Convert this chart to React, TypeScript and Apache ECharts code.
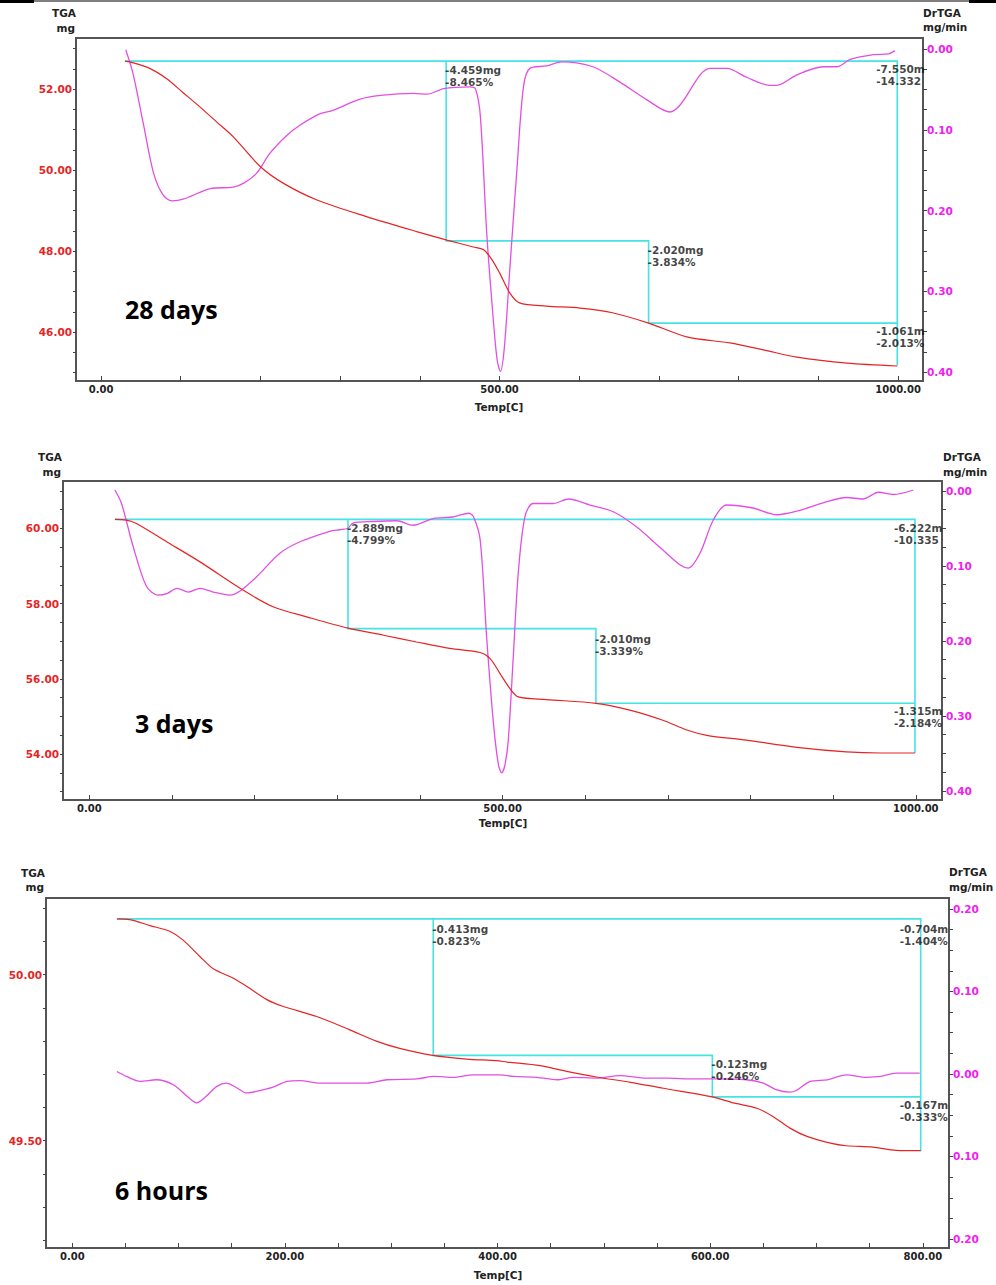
import React, { useEffect, useRef } from "react";
import * as echarts from "echarts";

// ---------- Panel 1: 28 days ----------
const p1Tga: number[][] = [
  [30, 52.69], [36, 52.67], [61, 52.51], [82, 52.26], [103, 51.91], [124, 51.56], [145, 51.19], [166, 50.82],
  [200, 50.08], [229, 49.67], [271, 49.26], [333, 48.85], [396, 48.48], [434, 48.27], [467, 48.1], [480, 48.03],
  [490, 47.8], [500, 47.46], [513, 46.96], [525, 46.72], [559, 46.64], [601, 46.59], [643, 46.47], [687, 46.22],
  [735, 45.88], [789, 45.73], [831, 45.56], [873, 45.38], [936, 45.23], [999, 45.16],
];
const p1Dtg: number[][] = [
  [31, -0.001], [40, -0.03], [53, -0.092], [66, -0.154], [78, -0.181], [89, -0.188], [103, -0.186], [137, -0.173],
  [166, -0.171], [179, -0.166], [195, -0.154], [212, -0.129], [233, -0.107], [250, -0.094], [275, -0.08],
  [291, -0.076], [325, -0.062], [354, -0.057], [392, -0.055], [409, -0.056], [430, -0.049], [463, -0.047],
  [470, -0.05], [476, -0.084], [484, -0.229], [492, -0.333], [497, -0.385], [501, -0.399], [506, -0.37],
  [513, -0.271], [522, -0.146], [530, -0.047], [538, -0.024], [559, -0.021], [578, -0.016], [617, -0.022],
  [651, -0.041], [685, -0.063], [714, -0.078], [726, -0.07], [764, -0.024], [785, -0.024], [810, -0.035],
  [839, -0.045], [848, -0.045], [873, -0.032], [906, -0.022], [923, -0.022], [940, -0.013], [969, -0.007],
  [988, -0.006], [996, -0.002],
];
const p1StepT = [30, 433, 687, 999];
const p1StepM = [52.69, 48.25, 46.22, 45.17];
const p1Notes = [["-4.459mg", "-8.465%"], ["-2.020mg", "-3.834%"], ["-7.550m", "-14.332"], ["-1.061m", "-2.013%"]];
const p1XTicks = [0, 100, 200, 300, 400, 500, 600, 700, 800, 900, 1000];
const p1XLabels = [0, 500, 1000];
const p1YLabels = [46, 48, 50, 52];
const p1YTicks = [45, 45.5, 46, 46.5, 47, 47.5, 48, 48.5, 49, 49.5, 50, 50.5, 51, 51.5, 52, 52.5, 53];
const p1DLabels = [0, -0.1, -0.2, -0.3, -0.4];

// ---------- Panel 2: 3 days ----------
const p2Tga: number[][] = [
  [31, 60.24], [45, 60.22], [57, 60.13], [94, 59.64], [134, 59.11], [186, 58.36], [223, 57.91], [263, 57.65],
  [313, 57.35], [356, 57.16], [396, 56.98], [436, 56.81], [473, 56.7], [485, 56.54], [497, 56.14], [509, 55.74],
  [519, 55.52], [553, 55.45], [613, 55.35], [654, 55.17], [694, 54.9], [723, 54.64], [747, 54.5], [795, 54.37],
  [856, 54.18], [916, 54.06], [957, 54.03], [999, 54.03],
];
const p2Dtg: number[][] = [
  [31, 0.001], [39, -0.017], [53, -0.074], [69, -0.127], [83, -0.139], [94, -0.137], [106, -0.13], [120, -0.135],
  [134, -0.13], [150, -0.135], [170, -0.139], [182, -0.134], [203, -0.114], [231, -0.083], [255, -0.068],
  [291, -0.054], [303, -0.052], [313, -0.05], [319, -0.043], [344, -0.041], [372, -0.04], [392, -0.046],
  [416, -0.037], [440, -0.035], [459, -0.03], [465, -0.035], [473, -0.066], [481, -0.199], [489, -0.31],
  [495, -0.365], [499, -0.376], [503, -0.365], [507, -0.332], [513, -0.221], [519, -0.11], [527, -0.035],
  [537, -0.017], [561, -0.017], [580, -0.011], [606, -0.019], [634, -0.028], [662, -0.048], [690, -0.075],
  [715, -0.099], [725, -0.103], [739, -0.083], [755, -0.039], [771, -0.019], [803, -0.023], [832, -0.032],
  [860, -0.026], [888, -0.016], [916, -0.009], [936, -0.011], [955, -0.002], [973, -0.005], [997, 0.001],
];
const p2StepT = [31, 313, 613, 999];
const p2StepM = [60.24, 57.335, 55.35, 54.03];
const p2Notes = [["-2.889mg", "-4.799%"], ["-2.010mg", "-3.339%"], ["-6.222m", "-10.335"], ["-1.315m", "-2.184%"]];
const p2XTicks = [0, 100, 200, 300, 400, 500, 600, 700, 800, 900, 1000];
const p2XLabels = [0, 500, 1000];
const p2YLabels = [54, 56, 58, 60];
const p2YTicks = [53, 53.5, 54, 54.5, 55, 55.5, 56, 56.5, 57, 57.5, 58, 58.5, 59, 59.5, 60, 60.5, 61];
const p2DLabels = [0, -0.1, -0.2, -0.3, -0.4];

// ---------- Panel 3: 6 hours ----------
const p3Tga: number[][] = [
  [42, 50.168], [54, 50.166], [73, 50.148], [92, 50.13], [104, 50.105], [120, 50.055], [133, 50.017],
  [151, 49.99], [164, 49.965], [183, 49.925], [198, 49.905], [230, 49.874], [261, 49.834], [286, 49.8],
  [308, 49.778], [339, 49.757], [371, 49.746], [399, 49.741], [409, 49.737], [440, 49.726], [465, 49.709],
  [493, 49.692], [525, 49.676], [556, 49.658], [602, 49.632], [622, 49.614], [644, 49.598], [659, 49.573],
  [675, 49.538], [691, 49.513], [713, 49.493], [728, 49.485], [753, 49.481], [775, 49.471], [798, 49.47],
];
const p3Dtg: number[][] = [
  [42, 0.003], [51, -0.003], [64, -0.009], [79, -0.007], [95, -0.013], [108, -0.027], [117, -0.035],
  [126, -0.027], [136, -0.015], [145, -0.011], [155, -0.017], [164, -0.023], [180, -0.019], [189, -0.016],
  [202, -0.009], [214, -0.008], [233, -0.011], [261, -0.011], [277, -0.011], [296, -0.007], [324, -0.006],
  [340, -0.003], [358, -0.004], [377, -0.001], [402, -0.001], [415, -0.003], [437, -0.004], [456, -0.007],
  [471, -0.004], [493, -0.005], [515, -0.002], [540, -0.005], [559, -0.005], [584, -0.006], [602, -0.006],
  [634, -0.007], [650, -0.011], [662, -0.019], [675, -0.022], [681, -0.02], [694, -0.009], [710, -0.007],
  [728, -0.001], [747, -0.004], [760, -0.003], [775, 0.001], [797, 0.001],
];
const p3StepT = [42, 339.5, 602, 798];
const p3StepM = [50.168, 49.757, 49.632, 49.468];
const p3Notes = [["-0.413mg", "-0.823%"], ["-0.123mg", "-0.246%"], ["-0.704m", "-1.404%"], ["-0.167m", "-0.333%"]];
const p3XTicks = [0, 50, 100, 150, 200, 250, 300, 350, 400, 450, 500, 550, 600, 650, 700, 750, 800];
const p3XLabels = [0, 200, 400, 600, 800];
const p3YLabels = [49.5, 50];
const p3YTicks = [49.2, 49.3, 49.4, 49.5, 49.6, 49.7, 49.8, 49.9, 50, 50.1, 50.2];
const p3DLabels = [0.2, 0.1, 0, -0.1, -0.2];

const dTicks1 = [0, -0.025, -0.05, -0.075, -0.1, -0.125, -0.15, -0.175, -0.2, -0.225, -0.25, -0.275, -0.3, -0.325, -0.35, -0.375, -0.4];
const dTicks3 = [0.2, 0.175, 0.15, 0.125, 0.1, 0.075, 0.05, 0.025, 0, -0.025, -0.05, -0.075, -0.1, -0.125, -0.15, -0.175, -0.2];

const RED = "#e52525";
const MAG = "#e34fe3";
const MAG_TXT = "#f020f0";
const CYAN = "#46e3e3";
const FRAME = "#555";
const FONT = "DejaVu Sans";

type Panel = {
  grid: any; xMin: number; xMax: number; xTicks: number[]; xLabels: number[];
  yMin: number; yMax: number; yLabels: number[]; yTicks: number[];
  dMin: number; dMax: number; dLabels: number[]; dTicks: number[];
  tga: number[][]; dtg: number[][]; stepT: number[]; stepM: number[]; notes: string[][];
  noteDy: number[];
};

const panels: Panel[] = [
  {
    grid: { left: 76, top: 38, width: 847, height: 343 }, xMin: -31.4, xMax: 1031.3, xTicks: p1XTicks, xLabels: p1XLabels,
    yMin: 44.79, yMax: 53.26, yLabels: p1YLabels, yTicks: p1YTicks,
    dMin: -0.411, dMax: 0.0136, dLabels: p1DLabels, dTicks: dTicks1,
    tga: p1Tga, dtg: p1Dtg, stepT: p1StepT, stepM: p1StepM, notes: p1Notes, noteDy: [3, 3, 2, 2],
  },
  {
    grid: { left: 63, top: 481, width: 879, height: 319 }, xMin: -31.8, xMax: 1031.7, xTicks: p2XTicks, xLabels: p2XLabels,
    yMin: 52.78, yMax: 61.26, yLabels: p2YLabels, yTicks: p2YTicks,
    dMin: -0.4122, dMax: 0.013, dLabels: p2DLabels, dTicks: dTicks1,
    tga: p2Tga, dtg: p2Dtg, stepT: p2StepT, stepM: p2StepM, notes: p2Notes, noteDy: [3, 4, 3, 2],
  },
  {
    grid: { left: 46, top: 898, width: 903, height: 350 }, xMin: -24.7, xMax: 824.6, xTicks: p3XTicks, xLabels: p3XLabels,
    yMin: 49.177, yMax: 50.231, yLabels: p3YLabels, yTicks: p3YTicks,
    dMin: -0.2109, dMax: 0.2133, dLabels: p3DLabels, dTicks: dTicks3,
    tga: p3Tga, dtg: p3Dtg, stepT: p3StepT, stepM: p3StepM, notes: p3Notes, noteDy: [4, 3, 4, 2],
  },
];

const titles = [
  { text: "28 days", x: 125, y: 309 },
  { text: "3 days", x: 135, y: 723 },
  { text: "6 hours", x: 115, y: 1190 },
];
const axisNames = [
  { tga: [76, 13], mg: [75, 28], dr: [923, 13], mgmin: [923, 27], temp: [499, 407] },
  { tga: [62, 457], mg: [61, 472], dr: [943, 457], mgmin: [943, 472], temp: [503, 823] },
  { tga: [45, 873], mg: [44, 887], dr: [949, 872], mgmin: [949, 887], temp: [498, 1275] },
];

function buildOption() {
  const grid: any[] = [];
  const xAxis: any[] = [];
  const yAxis: any[] = [];
  const series: any[] = [];
  const graphic: any[] = [];

  panels.forEach((p, i) => {
    grid.push({ ...p.grid, show: true, borderColor: FRAME, borderWidth: 2, backgroundColor: "#fff", containLabel: false });
    xAxis.push({
      type: "value", gridIndex: i, min: p.xMin, max: p.xMax, splitLine: { show: false },
      axisLine: { show: true, onZero: false, lineStyle: { color: FRAME, width: 2 } },
      axisTick: { show: true, inside: true, length: 5, customValues: p.xTicks, lineStyle: { color: "#444" } },
      axisLabel: { customValues: p.xLabels, margin: 3, color: "#222", fontFamily: FONT, fontWeight: "bold", fontSize: 10, formatter: (v: number) => v.toFixed(2) },
    });
    yAxis.push({
      type: "value", gridIndex: i, position: "left", min: p.yMin, max: p.yMax, splitLine: { show: false },
      axisLine: { show: true, onZero: false, lineStyle: { color: FRAME, width: 2 } },
      axisTick: { show: true, length: 3, customValues: p.yTicks, lineStyle: { color: "#444" } },
      axisLabel: { customValues: p.yLabels, margin: 4, color: RED, fontFamily: FONT, fontWeight: "bold", fontSize: 10.5, formatter: (v: number) => v.toFixed(2) },
    });
    yAxis.push({
      type: "value", gridIndex: i, position: "right", min: p.dMin, max: p.dMax, splitLine: { show: false },
      axisLine: { show: true, onZero: false, lineStyle: { color: FRAME, width: 2 } },
      axisTick: { show: true, length: 4, customValues: p.dTicks, lineStyle: { color: "#444" } },
      axisLabel: { customValues: p.dLabels, margin: 4, color: MAG_TXT, fontFamily: FONT, fontWeight: "bold", fontSize: 10.5, formatter: (v: number) => Math.abs(v).toFixed(2) },
    });

    const T = p.stepT, M = p.stepM;
    series.push({
      type: "lines", coordinateSystem: "cartesian2d", xAxisIndex: i, yAxisIndex: 2 * i, polyline: true, z: 2,
      lineStyle: { color: CYAN, width: 1.6, opacity: 1 },
      data: [
        { coords: [[T[0], M[0]], [T[3], M[0]], [T[3], M[3]]] },
        { coords: [[T[1], M[0]], [T[1], M[1]], [T[2], M[1]], [T[2], M[2]], [T[3], M[2]]] },
      ],
    });
    series.push({
      type: "line", xAxisIndex: i, yAxisIndex: 2 * i + 1, data: p.dtg, showSymbol: false, smooth: 0.3, z: 3,
      lineStyle: { color: MAG, width: 1.3 },
    });
    series.push({
      type: "line", xAxisIndex: i, yAxisIndex: 2 * i, data: p.tga, showSymbol: false, smooth: 0.3, z: 4,
      lineStyle: { color: RED, width: 1.2 },
    });
    const notePts = [[T[1], M[0]], [T[2], M[1]], [T[3], M[0]], [T[3], M[2]]];
    const dx = [-1, -1, -21, -21];
    series.push({
      type: "scatter", xAxisIndex: i, yAxisIndex: 2 * i, symbolSize: 0.1, z: 5, silent: true,
      itemStyle: { color: "rgba(0,0,0,0)" },
      data: notePts.map((pt, k) => ({
        value: pt,
        label: {
          show: true, position: [dx[k], p.noteDy[k]], align: "left", verticalAlign: "top",
          formatter: p.notes[k].join("\n"), color: "#111", fontFamily: FONT, fontWeight: "bold",
          fontSize: 10.5, lineHeight: 12,
        },
      })),
    });

    const n = axisNames[i];
    const txt = (t: string, pos: number[], align: string) => ({
      type: "text", x: pos[0], y: pos[1], z: 10,
      style: { text: t, fill: "#222", font: `bold 10.5px '${FONT}'`, textAlign: align, textVerticalAlign: "middle" },
    });
    graphic.push(txt("TGA", n.tga, "right"), txt("mg", n.mg, "right"), txt("DrTGA", n.dr, "left"),
      txt("mg/min", n.mgmin, "left"), txt("Temp[C]", n.temp, "center"));
    graphic.push({
      type: "text", x: titles[i].x, y: titles[i].y, z: 10,
      style: { text: titles[i].text, fill: "#000", font: "bold 25px 'Open Sans'", textAlign: "left", textVerticalAlign: "middle" },
    });
  });

  graphic.push(
    { type: "rect", shape: { x: 0, y: 0, width: 34, height: 3 }, style: { fill: "#000" } },
    { type: "line", shape: { x1: 34, y1: 1, x2: 969, y2: 1 }, style: { stroke: "#000", lineWidth: 1.2 } },
    { type: "rect", shape: { x: 969, y: 0, width: 27, height: 3 }, style: { fill: "#000" } },
  );

  return { animation: false, backgroundColor: "#fff", grid, xAxis, yAxis, series, graphic };
}

export default function App() {
  const ref = useRef<HTMLDivElement>(null);
  useEffect(() => {
    document.body.style.margin = "0";
    const chart = echarts.init(ref.current!, null, { renderer: "svg" });
    chart.setOption(buildOption() as any);
    return () => chart.dispose();
  }, []);
  return <div ref={ref} style={{ width: 996, height: 1285, background: "#fff" }} />;
}
